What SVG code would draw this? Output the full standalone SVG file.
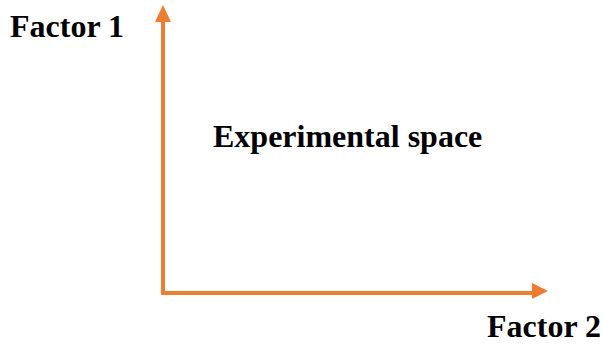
<svg xmlns="http://www.w3.org/2000/svg" width="603" height="345" viewBox="0 0 603 345">
<style>
.lbl{font-family:"Liberation Serif","Times New Roman",serif;font-weight:bold;font-size:32px;fill:#000}
.ax{stroke:#ED7D31;stroke-width:4;fill:none}
.hd{fill:#ED7D31}
</style>
<rect width="603" height="345" fill="#fff"/>
<g id="connectors">
<path class="ax" d="M163,21 V293 H533"/>
<polygon class="hd" points="163,5 155,22 171,22"/>
<polygon class="hd" points="548,291 532,283 532,299"/>
</g>
<g id="factor1"><text class="lbl" x="10" y="37">Factor 1</text></g>
<g id="space"><text class="lbl" x="213" y="147">Experimental space</text></g>
<g id="factor2"><text class="lbl" x="487" y="337">Factor 2</text></g>
</svg>
